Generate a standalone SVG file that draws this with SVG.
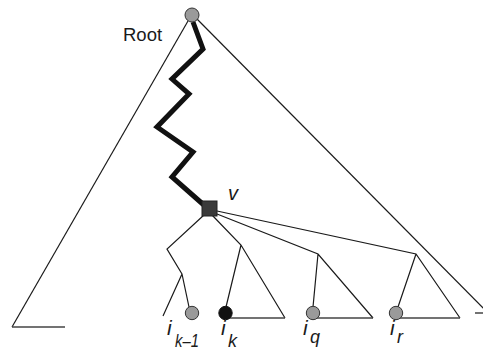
<svg xmlns="http://www.w3.org/2000/svg" width="483" height="351" viewBox="0 0 483 351">
<style>
.ln{fill:none;stroke:#1a1a1a;stroke-width:1.2}
.base{fill:none;stroke:#444;stroke-width:1.5}
.zz{fill:none;stroke:#111;stroke-width:5;stroke-linejoin:miter}
.leaf{fill:#9a9a9a;stroke:#333;stroke-width:1}
.lbl{font-family:"Liberation Sans",Arial,sans-serif;fill:#1a1a1a}
.it{font-style:italic}
</style>
<rect width="483" height="351" fill="#fff"/>
<g id="connectors">
<path class="ln" d="M188,21 L12,327"/>
<path class="base" d="M12,327 L65,327"/>
<path class="ln" d="M197,19 L490,315"/>
<path class="base" d="M475,313 L483,313"/>
<path class="zz" d="M193,22 L203,49 L172,79 L189,94 L157,127 L193,152 L172,177 L205,206"/>
<path class="ln" d="M204,215 L167,249 L182,274 L163,316 M182,274 L189,307"/>
<path class="ln" d="M212,215 L241,245 L285,318 M241,245 L226,307"/>
<path class="base" d="M226,318 L285,318"/>
<path class="ln" d="M217,214 L318,254 L373,318 M318,254 L313,307"/>
<path class="base" d="M313,318 L373,318"/>
<path class="ln" d="M217,211 L416,254 L460,318 M416,254 L398,307"/>
<path class="base" d="M396,318 L460,318"/>
</g>
<g id="root">
<circle class="leaf" cx="192" cy="15" r="7"/>
<text class="lbl" x="123" y="41" font-size="18.5">Root</text>
</g>
<g id="v">
<rect x="202" y="201" width="15" height="15" fill="#3a3a3a" stroke="#222" stroke-width="1"/>
<text class="lbl it" x="228" y="200" font-size="20">v</text>
</g>
<g id="ik-1">
<circle class="leaf" cx="192" cy="313" r="6.7"/>
<text class="lbl it" x="167" y="335" font-size="21">i</text>
<text class="lbl it" x="175" y="347" font-size="18" textLength="24" lengthAdjust="spacingAndGlyphs">k–1</text>
</g>
<g id="ik">
<circle cx="225.5" cy="313" r="6.7" fill="#111" stroke="#111" stroke-width="1"/>
<text class="lbl it" x="221" y="335" font-size="21">i</text>
<text class="lbl it" x="228" y="347" font-size="18">k</text>
</g>
<g id="iq">
<circle class="leaf" cx="313" cy="313" r="6.7"/>
<text class="lbl it" x="303" y="335" font-size="21">i</text>
<text class="lbl it" x="310" y="343" font-size="18">q</text>
</g>
<g id="ir">
<circle class="leaf" cx="396" cy="313" r="6.7"/>
<text class="lbl it" x="390" y="335" font-size="21">i</text>
<text class="lbl it" x="397" y="343" font-size="18">r</text>
</g>
</svg>
